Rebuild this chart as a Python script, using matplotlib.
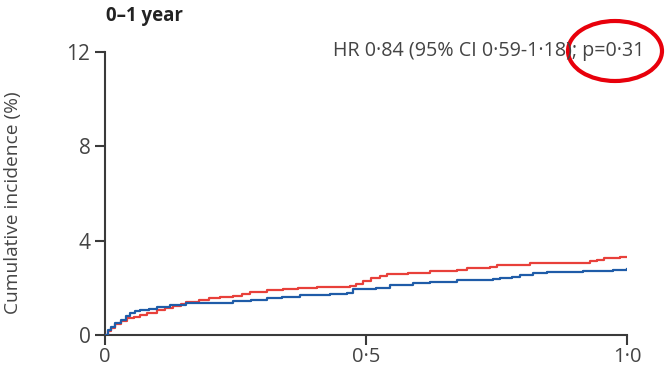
import matplotlib
matplotlib.use("Agg")
import matplotlib.pyplot as plt
from matplotlib.patches import Ellipse

plt.rcParams['font.family'] = ['Open Sans', 'DejaVu Sans']

# Data (years, cumulative incidence %)
red_x = [0.0, 0.005, 0.012, 0.02, 0.03, 0.042, 0.055, 0.067, 0.08, 0.099, 0.115, 0.13, 0.145, 0.156,
         0.18, 0.2, 0.22, 0.245, 0.262, 0.278, 0.31, 0.341, 0.37, 0.406, 0.431, 0.469, 0.48, 0.495,
         0.51, 0.527, 0.54, 0.58, 0.623, 0.674, 0.693, 0.738, 0.75, 0.801, 0.814, 0.916, 0.93, 0.942,
         0.955, 0.987, 1.0]
red_y = [0.0, 0.15, 0.3, 0.45, 0.58, 0.70, 0.78, 0.85, 0.95, 1.06, 1.15, 1.23, 1.32, 1.41,
         1.48, 1.55, 1.60, 1.65, 1.75, 1.84, 1.90, 1.94, 1.98, 2.02, 2.05, 2.07, 2.18, 2.30,
         2.40, 2.50, 2.57, 2.65, 2.72, 2.75, 2.84, 2.87, 2.95, 2.98, 3.04, 3.04, 3.12, 3.18,
         3.25, 3.29, 3.30]

blue_x = [0.0, 0.005, 0.012, 0.02, 0.03, 0.04, 0.048, 0.057, 0.067, 0.085, 0.1, 0.125, 0.156,
          0.214, 0.245, 0.28, 0.31, 0.34, 0.373, 0.431, 0.463, 0.476, 0.52, 0.546, 0.59, 0.623,
          0.674, 0.744, 0.757, 0.78, 0.795, 0.82, 0.846, 0.91, 0.916, 0.974, 1.0]
blue_y = [0.0, 0.2, 0.35, 0.5, 0.65, 0.8, 0.93, 1.0, 1.06, 1.12, 1.2, 1.28, 1.37,
          1.37, 1.45, 1.5, 1.55, 1.62, 1.69, 1.72, 1.76, 1.94, 1.98, 2.12, 2.19, 2.26,
          2.33, 2.36, 2.43, 2.48, 2.54, 2.61, 2.67, 2.68, 2.72, 2.75, 2.78]

x_ticks = [0, 0.5, 1.0]
x_labels = ['0', '0·5', '1·0']
y_ticks = [0, 4, 8, 12]
y_labels = ['0', '4', '8', '12']

title = '0–1 year'
annot = 'HR 0·84 (95% CI 0·59-1·18); p=0·31'
ylabel = 'Cumulative incidence (%)'

dark = '#3a3a3a'
fig = plt.figure(figsize=(6.65, 3.68), dpi=100)
ax = fig.add_axes([105/665, 1-335/368, (627-105)/665, (335-52)/368])

ax.plot(red_x, red_y, drawstyle='steps-post', color='#e8403a', lw=1.6, zorder=3)
ax.plot(blue_x, blue_y, drawstyle='steps-post', color='#1f5ca8', lw=1.6, zorder=4)

ax.set_xlim(0, 1.0)
ax.set_ylim(0, 12)
ax.set_xticks(x_ticks)
ax.set_xticklabels(x_labels)
ax.set_yticks(y_ticks)
ax.set_yticklabels(y_labels)
for s in ['top', 'right']:
    ax.spines[s].set_visible(False)
for s in ['left', 'bottom']:
    ax.spines[s].set_color(dark)
    ax.spines[s].set_linewidth(1.5)
ax.tick_params(axis='both', direction='out', length=7.5, width=1.5, color=dark,
               labelcolor='#444444', labelsize=15, pad=3)
ax.tick_params(axis='x', pad=1.5, labelsize=14.5)
ax.set_ylabel(ylabel, fontsize=13.8, color='#444444')
ax.yaxis.set_label_coords(-0.159, 0.466)

fig.text(106/665, 1-16/368, title, fontsize=13.4, fontweight='bold', color='#222222',
         ha='left', va='center')
fig.text(333/665, 1-51/368, annot, fontsize=14.2, color='#444444', ha='left', va='center')

ell = Ellipse((615/665, 1-51/368), 94/665, 60/368, transform=fig.transFigure,
              fill=False, edgecolor='#e8000b', lw=3)
fig.add_artist(ell)

fig.savefig('out.png', dpi=100)
